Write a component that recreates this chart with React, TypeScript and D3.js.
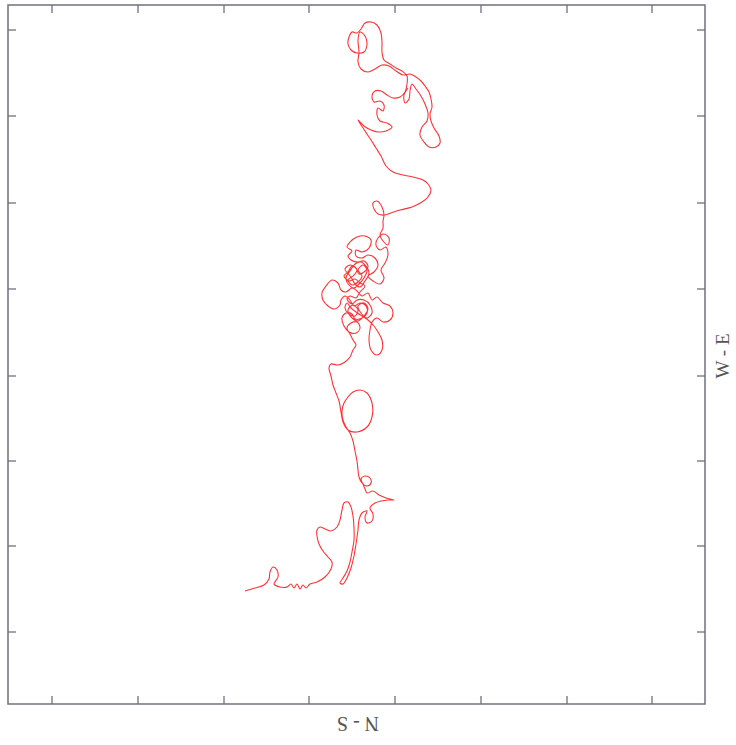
import React from "react";
import * as d3 from "d3";

// Track displacement from the start point (east, north), in metres
const trackEast = [
  0, 10, 19, 24, 25, 28, 32, 33, 29, 35, 42, 46, 49, 52, 55, 58, 61, 65, 72, 80, 86, 87, 83, 78, 74, 72, 72, 75, 80, 86, 92, 95, 97, 99, 103, 106, 108, 109, 109, 107, 105, 102, 98, 95, 98, 102, 106, 109, 111, 113, 114, 117, 122, 120, 122, 127, 128, 125, 130, 136, 143, 149, 141, 134, 128, 122, 120, 118, 116, 120, 125, 126, 122, 117, 114, 113,
  112, 110, 108, 105, 101, 98, 97, 99, 103, 108, 115, 122, 127, 127, 122, 112, 103, 98, 96, 94, 91, 88, 86, 84, 86, 93, 100, 105, 108, 111,
  108, 105, 102, 106, 112, 115, 111, 104, 99, 97, 101, 107, 110, 117, 122, 121, 115, 109, 105, 100, 96, 95, 89, 83, 78, 77, 81, 87, 93, 96, 101, 107, 112, 117, 123, 127, 132, 138, 145, 148, 145, 138, 132, 127, 125, 124, 126, 132, 137, 137, 133, 129, 123, 117, 111, 106, 102,
  100, 104, 110, 113, 108, 103, 107, 113, 119, 123, 119, 113, 116, 122, 127, 125, 119, 112, 107, 102,
  105, 111, 115, 120, 115, 110, 104, 99,
  103, 107, 112, 108, 103, 107, 113, 117, 113, 118, 122, 119, 114, 109, 104, 101, 105, 110, 116, 121, 124, 120, 115, 110, 106,
  100, 105, 111, 114, 119, 123, 119, 112, 106, 103, 107, 102, 105, 112, 120, 126, 124, 117, 111, 111, 117, 123, 130, 133, 129, 123, 128, 135, 139, 136, 140, 143, 141, 135, 131, 133, 139, 144, 143, 138, 135, 138,
  138, 139, 137, 132, 128, 129, 133, 140, 146, 155, 167, 177, 183, 186, 183, 178, 168, 158, 148, 141, 136, 131, 126, 120, 113, 119, 126, 133, 141, 147, 142, 135, 132, 133, 138, 139, 135, 129, 127, 130, 136, 142, 148, 155, 160, 162, 162, 157, 151, 145, 139, 137, 137, 136, 132, 126, 120, 116, 112, 107, 104, 103, 106, 112, 119, 122, 120, 115, 113, 114, 113, 116, 123, 130, 137, 144, 151, 158, 165, 171, 176, 180, 184, 186, 187, 185, 186, 189, 194, 195, 191, 184, 179, 175, 177, 182, 183, 180, 176, 171, 167, 165, 164, 160, 159, 163,
];
const trackNorth = [
  0, 3, 6, 12, 19, 24, 21, 14, 7, 4, 4, 7, 3, 7, 2, 6, 3, 7, 9, 14, 22, 29, 34, 40, 47, 55, 61, 64, 62, 60, 64, 71, 81, 88, 89, 84, 75, 63, 51, 39, 29, 20, 13, 8, 7, 13, 23, 35, 47, 61, 71, 78, 80, 74, 68, 70, 77, 83, 88, 90, 91, 91, 93, 96, 100, 98, 102, 107, 112, 115, 113, 108, 105, 108, 114, 121,
  130, 140, 150, 158, 164, 171, 180, 188, 194, 199, 201, 198, 188, 174, 164, 159, 161, 169, 179, 190, 198, 206, 215, 223, 227, 226, 229, 234, 241, 246,
  251, 257, 263, 268, 269, 263, 258, 259, 265, 273, 278, 277, 272, 273, 278, 285, 288, 285, 291, 295, 291, 286, 282, 285, 291, 298, 305, 311, 308, 301, 299, 303, 300, 295, 298, 291, 294, 288, 285, 278, 271, 269, 273, 269, 261, 251, 241, 236, 241, 251, 259, 265, 271, 275, 279, 283, 288,
  283, 277, 275, 281, 286, 281, 273, 270, 275, 282, 288, 285, 278, 273, 278, 286, 291, 291, 287, 292,
  295, 293, 299, 305, 308, 312, 310, 315,
  319, 325, 321, 315, 311, 306, 309, 315, 321, 326, 321, 313, 307, 303, 306, 313, 320, 327, 329, 325, 318, 310, 304, 307, 314,
  322, 326, 323, 317, 319, 325, 330, 329, 331, 335, 340, 344, 349, 354, 355, 351, 343, 339, 341, 335, 333, 336, 333, 326, 319, 315, 310, 307, 313, 321, 328, 336, 344, 341, 346, 353, 357, 353, 346, 350, 356, 363,
  370, 376, 384, 390, 388, 382, 377, 376, 378, 381, 384, 389, 394, 401, 407, 411, 414, 416, 419, 425, 435, 443, 451, 460, 471, 465, 461, 459, 460, 464, 468, 470, 476, 483, 480, 486, 490, 489, 495, 500, 500, 496, 493, 494, 499, 507, 515, 520, 523, 527, 531, 539, 549, 558, 566, 569, 568, 562, 558, 559, 554, 547, 541, 538, 539, 547, 555, 559, 551, 539, 529, 522, 519, 522, 526, 525, 520, 516, 517, 514, 510, 505, 499, 492, 484, 477, 470, 463, 455, 448, 444, 444, 449, 456, 464, 470, 478, 487, 495, 502, 507, 500, 492, 488, 496, 503,
];
const eastTicks = [-193, -107, -21, 64, 150, 236, 322, 407];
const northTicks = [561, 475, 388, 302, 215, 130, 45, -41];
const eastDomain = [-237, 460];
const northDomain = [-113, 586];
const labelNS = "N - S";
const labelWE = "W - E";

export default function App() {
  const W = 736;
  const H = 745;
  const left = 8, right = 705, top = 5, bottom = 704;
  const x = d3.scaleLinear().domain(eastDomain).range([left, right]);
  const y = d3.scaleLinear().domain(northDomain).range([bottom, top]);
  const n = Math.min(trackEast.length, trackNorth.length);
  const pts: [number, number][] = trackEast.slice(0, n).map((e, i) => [e, trackNorth[i]]);
  const line = d3
    .line<[number, number]>()
    .x((d) => x(d[0]))
    .y((d) => y(d[1]))
    .curve(d3.curveCatmullRom.alpha(0.5));
  const tl = 8;
  const frame = "#70707f";
  return (
    <svg
      width={W}
      height={H}
      style={{ position: "absolute", left: 0, top: 0, background: "#fff" }}
    >
      <rect x={left} y={top} width={right - left} height={bottom - top} fill="none" stroke={frame} strokeWidth={1.5} />
      {eastTicks.map((t) => (
        <g key={"e" + t}>
          <line x1={x(t)} x2={x(t)} y1={bottom} y2={bottom - tl} stroke={frame} strokeWidth={1.3} />
          <line x1={x(t)} x2={x(t)} y1={top} y2={top + tl} stroke={frame} strokeWidth={1.3} />
        </g>
      ))}
      {northTicks.map((t) => (
        <g key={"n" + t}>
          <line x1={left} x2={left + tl} y1={y(t)} y2={y(t)} stroke={frame} strokeWidth={1.3} />
          <line x1={right} x2={right - tl} y1={y(t)} y2={y(t)} stroke={frame} strokeWidth={1.3} />
        </g>
      ))}
      <path d={line(pts) || ""} fill="none" stroke="#ff3333" strokeWidth={1.1} strokeLinejoin="round" />
      <text
        transform={`translate(358,717) rotate(180)`}
        textAnchor="middle"
        fontFamily="'Liberation Serif', 'DejaVu Serif', serif"
        fontSize={20}
        fill="#555"
      >
        {labelNS}
      </text>
      <text
        transform={`translate(729,356) rotate(-90)`}
        textAnchor="middle"
        fontFamily="'Liberation Serif', 'DejaVu Serif', serif"
        fontSize={19}
        fill="#555"
      >
        {labelWE}
      </text>
    </svg>
  );
}
